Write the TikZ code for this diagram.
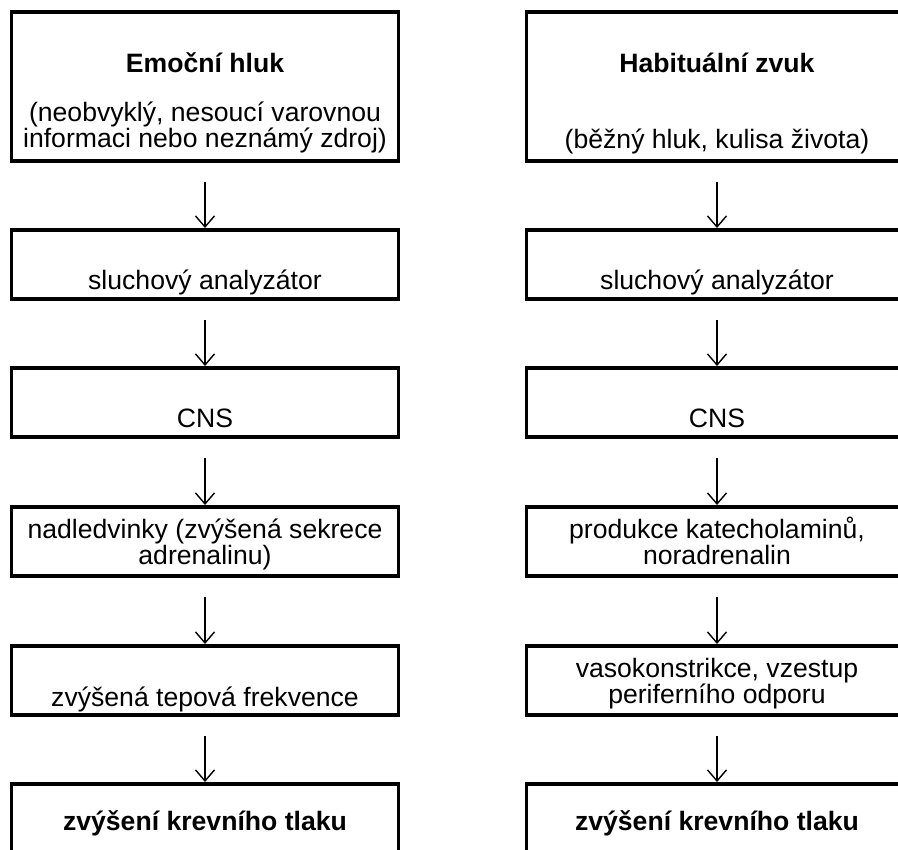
\documentclass[tikz,border=0pt]{standalone}
\usepackage{fontspec}
\setmainfont{Liberation Sans}
\usetikzlibrary{arrows.meta,calc}
\tikzset{
  box/.style={draw, line width=3.2pt, rectangle, inner sep=0pt, outer sep=0pt},
  lbox/.style={box, minimum width=386.5pt},
  rbox/.style={box, minimum width=440pt},
  txt/.style={anchor=base, inner sep=0pt, font=\fontsize{26.6}{27}\selectfont},
  btxt/.style={txt, font=\fontsize{26.6}{27}\selectfont\bfseries},
  arr/.style={line width=1.4pt, -{Straight Barb[length=11pt,width=19pt]}}
}
\begin{document}
\begin{tikzpicture}[x=1pt,y=-1pt]
\useasboundingbox (0,0) rectangle (898,850);
\clip (0,0) rectangle (898,850);
% left column boxes
\node[lbox, minimum height=149pt] (l1) at (205,86.5) {};
\node[lbox, minimum height=69pt] (l2) at (205,264.5) {};
\node[lbox, minimum height=69pt] (l3) at (205,402.5) {};
\node[lbox, minimum height=69pt] (l4) at (205,541.5) {};
\node[lbox, minimum height=69pt] (l5) at (205,680.5) {};
\node[lbox, minimum height=80pt] (l6) at (205,824) {};
% right column boxes (cut by the right edge of the picture)
\node[rbox, minimum height=149pt] (r1) at (746.5,86.5) {};
\node[rbox, minimum height=69pt] (r2) at (746.5,264.5) {};
\node[rbox, minimum height=69pt] (r3) at (746.5,402.5) {};
\node[rbox, minimum height=69pt] (r4) at (746.5,541.5) {};
\node[rbox, minimum height=69pt] (r5) at (746.5,680.5) {};
\node[rbox, minimum height=80pt] (r6) at (746.5,824) {};
% left texts
\node[btxt] (l1a) at (205,73) {Emoční hluk};
\node[txt] (l1b) at (205,122) {(neobvyklý, nesoucí varovnou};
\node[txt] (l1c) at (205,148) {informaci nebo neznámý zdroj)};
\node[txt] (l2a) at (205,290) {sluchový analyzátor};
\node[txt] (l3a) at (205,428) {CNS};
\node[txt] (l4a) at (205,538) {nadledvinky (zvýšená sekrece};
\node[txt] (l4b) at (205,565) {adrenalinu)};
\node[txt] (l5a) at (205,706) {zvýšená tepová frekvence};
\node[btxt] (l6a) at (205,830) {zvýšení krevního tlaku};
% right texts
\node[btxt] (r1a) at (717,73) {Habituální zvuk};
\node[txt] (r1b) at (717,149) {(běžný hluk, kulisa života)};
\node[txt] (r2a) at (717,290) {sluchový analyzátor};
\node[txt] (r3a) at (717,428) {CNS};
\node[txt] (r4a) at (717,538) {produkce katecholaminů,};
\node[txt] (r4b) at (717,565) {noradrenalin};
\node[txt] (r5a) at (717,677) {vasokonstrikce, vzestup};
\node[txt] (r5b) at (717,703) {periferního odporu};
\node[btxt] (r6a) at (717,830) {zvýšení krevního tlaku};
% arrows
\foreach \c in {l,r}{
  \foreach \i/\j in {1/2,2/3,3/4,4/5,5/6}{
    \draw[arr] ($(\c\i.south -| \c1a.base)+(0,21)$) -- ($(\c\j.north -| \c1a.base)+(0,-2)$);
  }
}
\end{tikzpicture}
\end{document}
